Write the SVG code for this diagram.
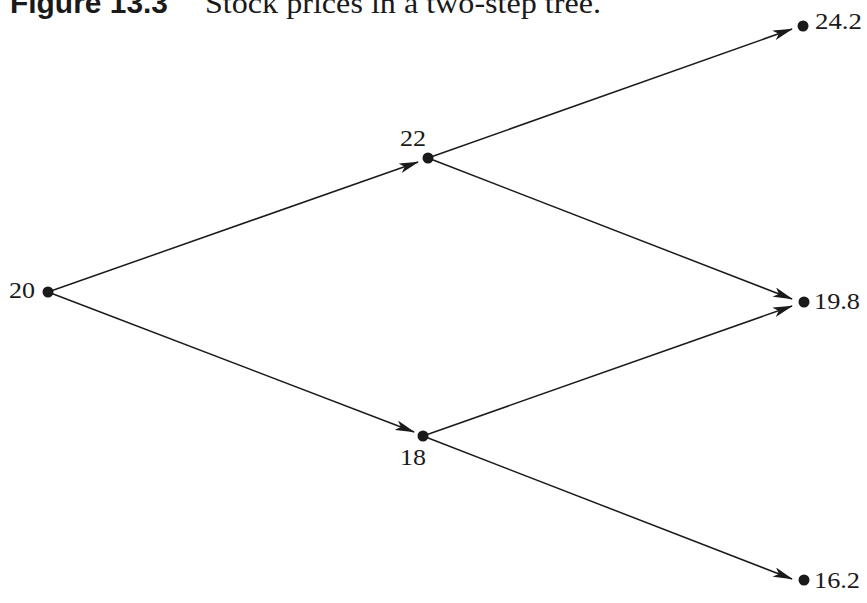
<svg xmlns="http://www.w3.org/2000/svg" width="867" height="603" viewBox="0 0 867 603">
<style>
.e{stroke:#1a1a1a;stroke-width:1.5;fill:none;marker-end:url(#ah)}
.d{fill:#1a1a1a}
.t{font-family:"Liberation Serif",serif;font-size:23px;fill:#1a1a1a}
</style>
<defs>
<marker id="ah" viewBox="0 0 20 10" refX="19" refY="5" markerWidth="20" markerHeight="10" markerUnits="userSpaceOnUse" orient="auto">
<path d="M0,0 L20,5 L0,10 L5,5 Z" fill="#1a1a1a"/>
</marker>
</defs>
<text x="10" y="13" font-family="'Liberation Sans',sans-serif" font-weight="bold" font-size="30" fill="#1a1a1a" textLength="158" lengthAdjust="spacingAndGlyphs">Figure 13.3</text>
<text x="205" y="13" font-family="'Liberation Serif',serif" font-size="30" fill="#1a1a1a" textLength="396" lengthAdjust="spacingAndGlyphs">Stock prices in a two-step tree.</text>
<g id="connectors">
<line class="e" x1="48" y1="292" x2="418" y2="162"/>
<line class="e" x1="48" y1="292" x2="414" y2="432"/>
<line class="e" x1="428" y1="158" x2="792" y2="29"/>
<line class="e" x1="428" y1="158" x2="792" y2="299"/>
<line class="e" x1="423" y1="436" x2="792" y2="306"/>
<line class="e" x1="423" y1="436" x2="792" y2="579"/>
</g>
<g id="n20"><circle class="d" cx="48" cy="292" r="5.5"/><text class="t" x="9" y="298" textLength="26" lengthAdjust="spacingAndGlyphs">20</text></g>
<g id="n22"><circle class="d" cx="428" cy="158" r="5.5"/><text class="t" x="400" y="146" textLength="26" lengthAdjust="spacingAndGlyphs">22</text></g>
<g id="n18"><circle class="d" cx="423" cy="436" r="5.5"/><text class="t" x="400" y="465" textLength="26" lengthAdjust="spacingAndGlyphs">18</text></g>
<g id="n242"><circle class="d" cx="803" cy="26" r="5.5"/><text class="t" x="815" y="29" textLength="47" lengthAdjust="spacingAndGlyphs">24.2</text></g>
<g id="n198"><circle class="d" cx="804" cy="302" r="5.5"/><text class="t" x="814" y="309" textLength="46" lengthAdjust="spacingAndGlyphs">19.8</text></g>
<g id="n162"><circle class="d" cx="804" cy="580" r="5.5"/><text class="t" x="814" y="588" textLength="46" lengthAdjust="spacingAndGlyphs">16.2</text></g>
</svg>
